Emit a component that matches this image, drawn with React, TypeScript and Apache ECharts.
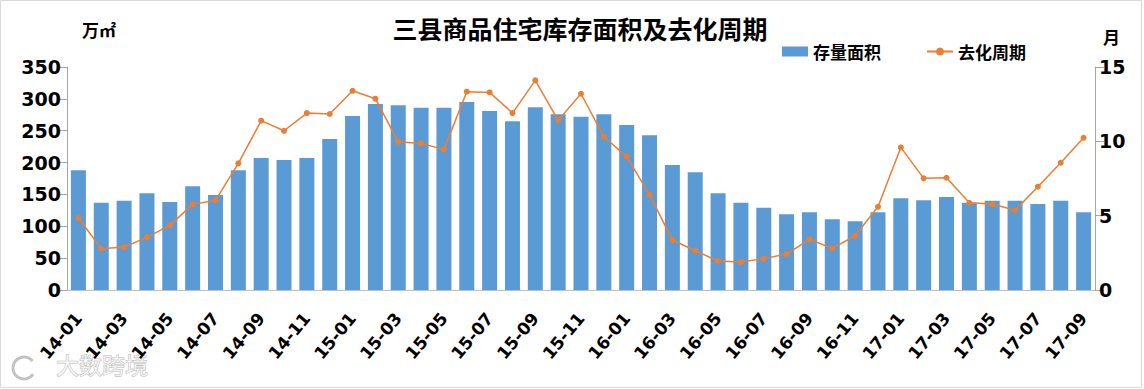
import React, { useEffect, useRef } from "react";
import * as echarts from "echarts";

const months: string[] = [
  "14-01","14-02","14-03","14-04","14-05","14-06","14-07","14-08","14-09","14-10","14-11","14-12",
  "15-01","15-02","15-03","15-04","15-05","15-06","15-07","15-08","15-09","15-10","15-11","15-12",
  "16-01","16-02","16-03","16-04","16-05","16-06","16-07","16-08","16-09","16-10","16-11","16-12",
  "17-01","17-02","17-03","17-04","17-05","17-06","17-07","17-08","17-09",
];

const stockArea: number[] = [
  188, 137, 140, 152, 138, 163, 149, 188, 207, 204, 207, 237,
  273, 292, 290, 286, 286, 295, 281, 265, 287, 276, 272, 276,
  259, 243, 196, 185, 152, 137, 129, 119, 122, 111, 108, 122,
  144, 141, 146, 137, 140, 140, 135, 140, 122,
];

const cycle: number[] = [
  4.84, 2.78, 2.89, 3.54, 4.35, 5.76, 6.03, 8.52, 11.39, 10.71, 11.9, 11.84,
  13.4, 12.87, 9.97, 9.86, 9.46, 13.34, 13.29, 11.9, 14.1, 11.41, 13.2, 10.31,
  8.97, 6.41, 3.36, 2.64, 1.95, 1.88, 2.11, 2.42, 3.41, 2.8, 3.65, 5.6,
  9.59, 7.51, 7.55, 5.87, 5.78, 5.36, 6.95, 8.56, 10.24,
];

const leftTicks = { min: 0, max: 350, interval: 50 };
const rightTicks = { min: 0, max: 15, interval: 5 };

const titleText = "三县商品住宅库存面积及去化周期";
const seriesNames = ["存量面积", "去化周期"];

export default function App() {
  const ref = useRef<HTMLDivElement>(null);
  useEffect(() => {
    if (!ref.current) return;
    const chart = echarts.init(ref.current, undefined, { renderer: "svg" });
    const axisFont = "'DejaVu Sans', sans-serif";
    const cjk = "'Noto Sans CJK SC', sans-serif";
    chart.setOption({
      animation: false,
      backgroundColor: "#fff",
      title: {
        text: titleText,
        left: 575,
        top: 10,
        textAlign: "center",
        textStyle: { fontFamily: cjk, fontSize: 25, fontWeight: "bold", color: "#000" },
      },
      legend: {
        left: 777,
        top: 38,
        itemWidth: 26,
        itemHeight: 10,
        itemGap: 45,
        textStyle: { fontFamily: cjk, fontSize: 17, fontWeight: "bold", color: "#000" },
        data: [
          { name: seriesNames[0], icon: "rect" },
          { name: seriesNames[1] },
        ],
      },
      grid: { left: 67, right: 49, top: 67, bottom: 99, containLabel: false },
      xAxis: {
        type: "category",
        data: months,
        axisLine: { show: true, lineStyle: { color: "#bfbfbf" } },
        axisTick: { show: false },
        axisLabel: {
          interval: 1,
          rotate: 50,
          margin: 25,
          fontFamily: axisFont,
          fontWeight: "bold",
          fontSize: 17,
          color: "#000",
        },
      },
      yAxis: [
        {
          type: "value",
          ...leftTicks,
          axisLine: { show: true, lineStyle: { color: "#a6a6a6" } },
          axisTick: { show: true, length: 9, lineStyle: { color: "#a6a6a6" } },
          splitLine: { show: false },
          axisLabel: { margin: 6, fontFamily: axisFont, fontWeight: "bold", fontSize: 19, color: "#000" },
        },
        {
          type: "value",
          ...rightTicks,
          position: "right",
          axisLine: { show: true, lineStyle: { color: "#a6a6a6" } },
          axisTick: { show: true, length: 9, lineStyle: { color: "#a6a6a6" } },
          splitLine: { show: false },
          axisLabel: { margin: 4, fontFamily: axisFont, fontWeight: "bold", fontSize: 19, color: "#000" },
        },
      ],
      series: [
        {
          name: seriesNames[0],
          type: "bar",
          data: stockArea,
          barWidth: 15,
          itemStyle: { color: "#5B9BD5" },
        },
        {
          name: seriesNames[1],
          type: "line",
          yAxisIndex: 1,
          data: cycle,
          symbol: "circle",
          symbolSize: 6,
          lineStyle: { color: "#ED7D31", width: 1.5 },
          itemStyle: { color: "#ED7D31" },
        },
      ],
      graphic: [
        {
          type: "rect",
          shape: { x: 0.5, y: 0.5, width: 1141, height: 387 },
          style: { fill: "none", stroke: "#d9d9d9", lineWidth: 1 },
          silent: true,
        },
        {
          type: "text",
          x: 82,
          y: 21,
          style: { text: "万㎡", fontFamily: cjk, fontSize: 17, fontWeight: "bold", fill: "#000" },
        },
        {
          type: "text",
          x: 1103,
          y: 28,
          style: { text: "月", fontFamily: cjk, fontSize: 17, fontWeight: "bold", fill: "#000" },
        },
        {
          type: "arc",
          shape: { cx: 24, cy: 368, r: 11, startAngle: 0.6, endAngle: 5.6 },
          style: { fill: "none", stroke: "rgba(185,185,185,0.85)", lineWidth: 3 },
          silent: true,
        },
        {
          type: "text",
          x: 56,
          y: 352,
          style: {
            text: "大数跨境",
            fontFamily: cjk,
            fontSize: 23,
            fill: "rgba(255,255,255,0.7)",
            stroke: "rgba(175,175,175,0.85)",
            lineWidth: 1,
          },
        },
      ],
    });
    return () => chart.dispose();
  }, []);
  return (
    <div
      ref={ref}
      style={{ position: "absolute", left: 0, top: 0, width: 1144, height: 389 }}
    />
  );
}
